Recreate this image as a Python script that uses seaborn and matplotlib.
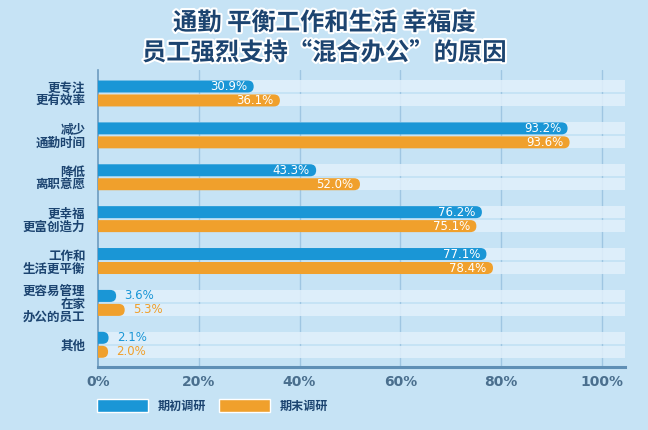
import matplotlib
matplotlib.use("Agg")
import matplotlib.pyplot as plt
import matplotlib.patheffects as pe
from matplotlib.patches import FancyBboxPatch
import seaborn as sns
import pandas as pd

categories = ["更专注\n更有效率", "减少\n通勤时间", "降低\n离职意愿", "更幸福\n更富创造力",
              "工作和\n生活更平衡", "更容易管理\n在家\n办公的员工", "其他"]
series_names = ["期初调研", "期末调研"]
initial_vals = [30.9, 93.2, 43.3, 76.2, 77.1, 3.6, 2.1]
final_vals = [36.1, 93.6, 52.0, 75.1, 78.4, 5.3, 2.0]
xticks = [0, 20, 40, 60, 80, 100]
xtick_labels = ["0%", "20%", "40%", "60%", "80%", "100%"]
title_lines = ["通勤 平衡工作和生活 幸福度", "员工强烈支持“混合办公”的原因"]

BG = "#c6e3f5"
TRACK = "#e2f0fb"
BLUE = "#1a96d6"
ORANGE = "#f0a02c"
NAVY = "#1c4470"
GRID = "#9fc6e2"
TICKC = "#4a6f8e"

sns.set_theme(style="white")
plt.rcParams['font.family'] = ['Noto Sans CJK SC', 'DejaVu Sans']

df = pd.DataFrame({
    "category": categories * 2,
    "series": [series_names[0]] * len(categories) + [series_names[1]] * len(categories),
    "value": initial_vals + final_vals,
})

fig = plt.figure(figsize=(6.48, 4.30), dpi=100, facecolor=BG)
ax = fig.add_axes([98 / 648, 63 / 430, 527 / 648, 297 / 430])
ax.set_facecolor(BG)

XMAX = 104.6
YLIM = (6.53, -0.56)

sns.barplot(data=df, y="category", x="value", hue="series", orient="h",
            palette=[BLUE, ORANGE], width=0.667, gap=0.14, ax=ax,
            order=categories, hue_order=series_names, saturation=1)
ax.set_ylim(*YLIM)
ax.set_xlim(0, XMAX)

# pixel scale for round caps
fig.canvas.draw()
bb = ax.get_window_extent()
ax_px_x = XMAX / bb.width
ax_px_y = (YLIM[0] - YLIM[1]) / bb.height
m_aspect = ax_px_y / ax_px_x

bars = [p for c in ax.containers for p in c]
for p in bars:
    x0, y0, w, h = p.get_x(), p.get_y(), p.get_width(), p.get_height()
    color = p.get_facecolor()
    p.set_visible(False)
    # track
    ax.add_patch(plt.Rectangle((0, y0), XMAX, h, facecolor=TRACK, edgecolor="none",
                               alpha=0.85, zorder=1))
    r = (h / 2) / m_aspect
    fb = FancyBboxPatch((x0 - r, y0), w + r, h,
                        boxstyle=f"round,pad=0,rounding_size={r}",
                        mutation_aspect=m_aspect, facecolor=color,
                        edgecolor="none", zorder=3)
    ax.add_patch(fb)
    yc = y0 + h / 2
    if w > 15:
        ax.text(w - 1.3, yc, f"{w:.1f}%", ha="right", va="center", color="white",
                fontsize=8.5, family="DejaVu Sans", zorder=4)
    else:
        ax.text(w + 1.6, yc, f"{w:.1f}%", ha="left", va="center", color=color,
                fontsize=8.5, family="DejaVu Sans", zorder=4)

# grid
for xt in xticks[1:]:
    ax.axvline(xt, color=GRID, lw=1.0, zorder=0.5)

for s in ["top", "right"]:
    ax.spines[s].set_visible(False)
ax.spines["left"].set_color("#6e9cc0")
ax.spines["left"].set_linewidth(1.2)
ax.spines["bottom"].set_color("#5f8fb5")
ax.spines["bottom"].set_linewidth(2.2)

ax.set_xticks(xticks)
ax.set_xticklabels(xtick_labels, fontsize=10, fontweight="bold", color=TICKC,
                   family="DejaVu Sans")
ax.tick_params(axis="x", length=0, pad=6)
ax.tick_params(axis="y", length=0, pad=9)
ax.set_yticks(range(len(categories)))
ax.set_yticklabels(categories, fontsize=9, fontweight="bold", color=NAVY,
                   linespacing=1.0)
ax.set_xlabel("")
ax.set_ylabel("")

old = ax.get_legend()
handles = old.legend_handles
labels = [t.get_text() for t in old.get_texts()]
old.remove()
leg = fig.legend(handles, labels, loc="center left",
                 bbox_to_anchor=(86 / 648, 1 - 406 / 430), ncol=2, frameon=False,
                 handlelength=4.2, handleheight=1.3, handletextpad=0.8,
                 columnspacing=1.1, fontsize=8.7)
for t in leg.get_texts():
    t.set_color(NAVY)
    t.set_fontweight("bold")

for i, line in enumerate(title_lines):
    fig.text(0.5, 1 - (23 + 30 * i) / 430, line, ha="center", va="center",
             fontsize=17.5, fontweight="bold", color=NAVY,
             path_effects=[pe.withStroke(linewidth=3, foreground="white")])

fig.savefig("out.png", dpi=100, facecolor=BG)
